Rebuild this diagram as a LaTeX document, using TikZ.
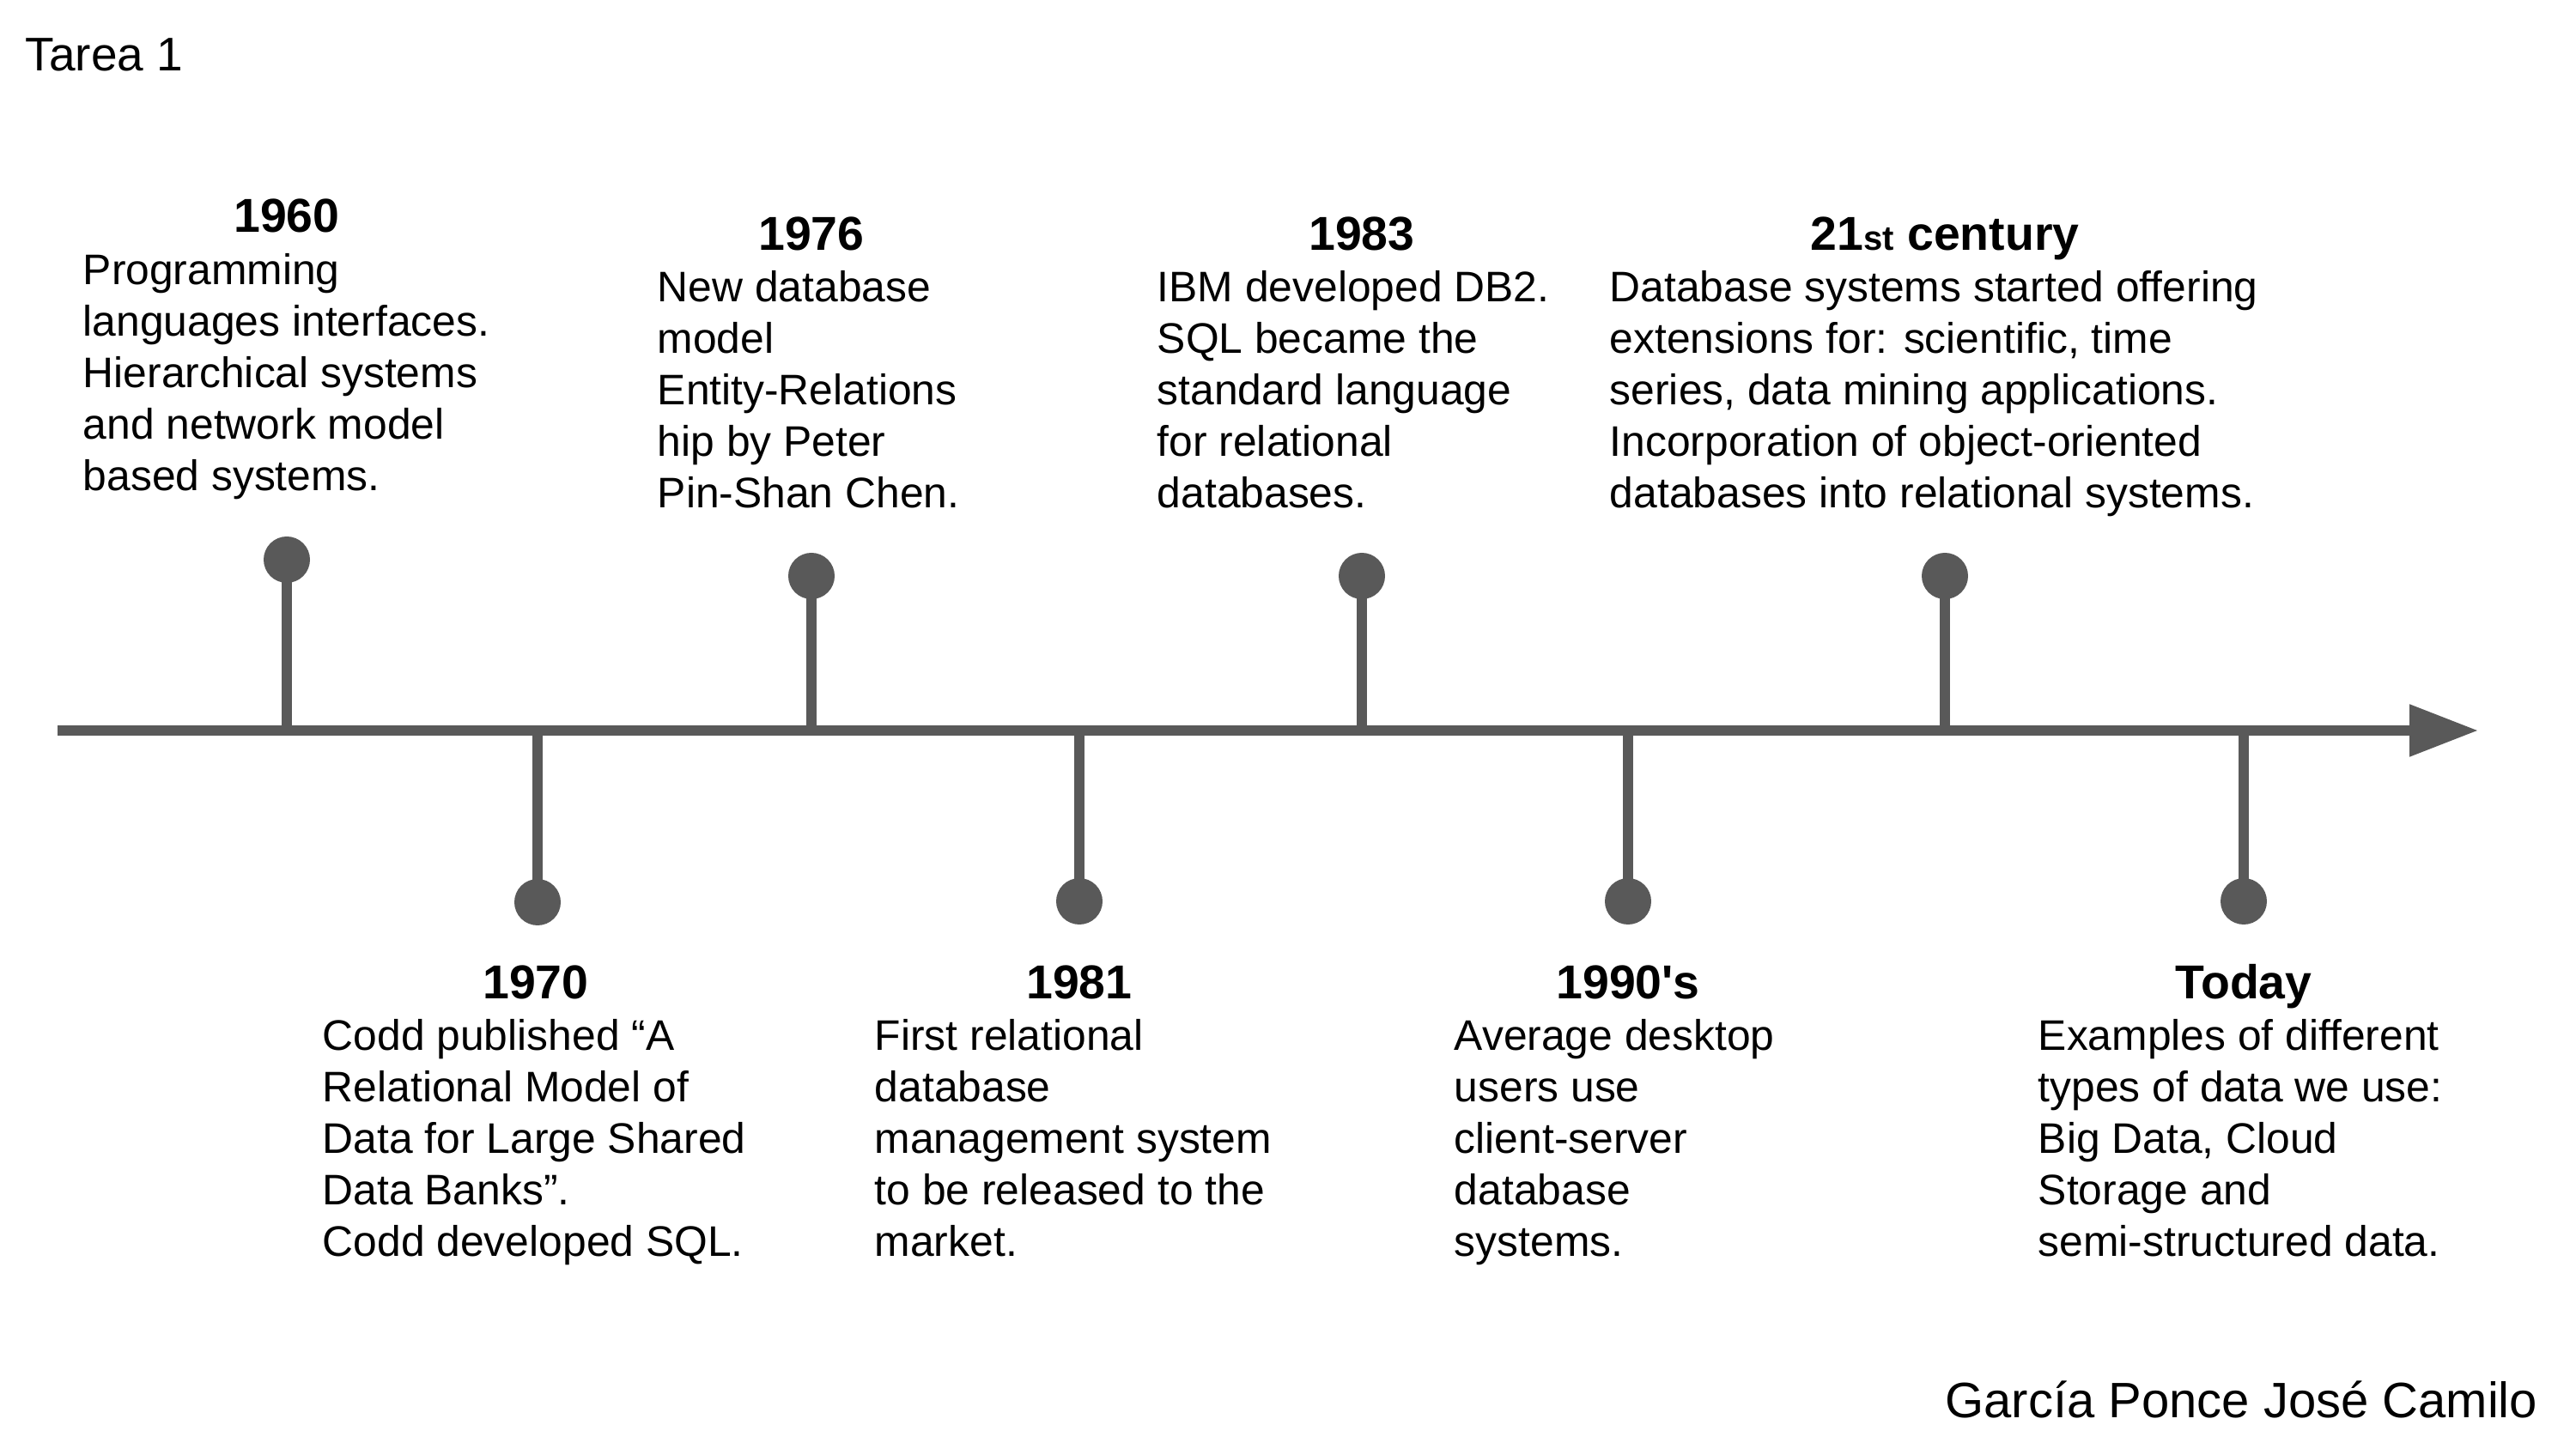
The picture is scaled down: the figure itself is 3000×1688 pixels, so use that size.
\documentclass[tikz,border=0pt]{standalone}
\usepackage{fontspec}
\setmainfont{Liberation Sans}[Ligatures=TeXOff]
\usetikzlibrary{arrows.meta}
\definecolor{linegray}{RGB}{89,89,89}
\begin{document}
\begin{tikzpicture}[x=0.25pt,y=-0.25pt,
  axisline/.style={line width=3pt,draw=linegray,-{Triangle[length=20pt,width=14.5pt]}},
  stemline/.style={line width=3pt,draw=linegray},
  pin/.style={circle,fill=linegray,inner sep=0pt,minimum size=13.5pt},
  year/.style={anchor=base,font=\bfseries\fontsize{13.85pt}{16pt}\selectfont,inner sep=0pt},
  body/.style={anchor=base west,align=left,font=\fontsize{12.45pt}{15pt}\selectfont,inner sep=0pt},
  plain/.style={inner sep=0pt},
]
\useasboundingbox[fill=white] (0,0) rectangle (3000,1688);

% axis
\coordinate (axstart) at (67,851);
\coordinate (axend) at (2886,851);
\draw[axisline] (axstart) -- (axend);

% axis points
\coordinate (a1960) at (334,851);
\coordinate (a1970) at (626,851);
\coordinate (a1976) at (945,851);
\coordinate (a1981) at (1257,851);
\coordinate (a1983) at (1586,851);
\coordinate (a1990) at (1896,851);
\coordinate (a21st) at (2265,851);
\coordinate (atoday) at (2613,851);

% pins
\node[pin] (p1960) at (334,652) {};
\node[pin] (p1970) at (626,1051) {};
\node[pin] (p1976) at (945,671) {};
\node[pin] (p1981) at (1257,1050) {};
\node[pin] (p1983) at (1586,671) {};
\node[pin] (p1990) at (1896,1050) {};
\node[pin] (p21st) at (2265,671) {};
\node[pin] (ptoday) at (2613,1050) {};

\draw[stemline] (a1960) -- (p1960.center);
\draw[stemline] (a1970) -- (p1970.center);
\draw[stemline] (a1976) -- (p1976.center);
\draw[stemline] (a1981) -- (p1981.center);
\draw[stemline] (a1983) -- (p1983.center);
\draw[stemline] (a1990) -- (p1990.center);
\draw[stemline] (a21st) -- (p21st.center);
\draw[stemline] (atoday) -- (ptoday.center);

% title and author
\node[plain,anchor=base west,font=\fontsize{13.75pt}{16pt}\selectfont] (title) at (29,83) {Tarea 1};
\node[plain,anchor=base east,font=\fontsize{14.5pt}{17pt}\selectfont] (author) at (2956,1651) {García Ponce José Camilo};

% headings
\node[year] (y1960) at (334,271) {1960};
\node[year] (y1970) at (624,1163) {1970};
\node[year] (y1976) at (945,292) {1976};
\node[year] (y1981) at (1257,1163) {1981};
\node[year] (y1983) at (1586,292) {1983};
\node[year] (y1990) at (1896,1163) {1990's};
\node[year] (y21st) at (2265,292) {21{\fontsize{10pt}{11pt}\selectfont st} century};
\node[year] (ytoday) at (2613,1163) {Today};

% bodies (anchor = baseline of the last line)
\node[body] (t1960) at (96,572) {Programming\\languages interfaces.\\Hierarchical systems\\and network model\\based systems.};
\node[body] (t1970) at (375,1463) {Codd published “A\\Relational Model of\\Data for Large Shared\\Data Banks”.\\Codd developed SQL.};
\node[body] (t1976) at (765,592) {New database\\model\\Entity-Relations\\hip by Peter\\Pin-Shan Chen.};
\node[body] (t1981) at (1018,1463) {First relational\\database\\management system\\to be released to the\\market.};
\node[body] (t1983) at (1347,592) {IBM developed DB2.\\SQL became the\\standard language\\for relational\\databases.};
\node[body] (t1990) at (1693,1463) {Average desktop\\users use\\client-server\\database\\systems.};
\node[body] (t21st) at (1874,592) {Database systems started offering\\extensions for: scientific, time\\series, data mining applications.\\Incorporation of object-oriented\\databases into relational systems.};
\node[body] (ttoday) at (2373,1463) {Examples of different\\types of data we use:\\Big Data, Cloud\\Storage and\\semi-structured data.};
\end{tikzpicture}
\end{document}
